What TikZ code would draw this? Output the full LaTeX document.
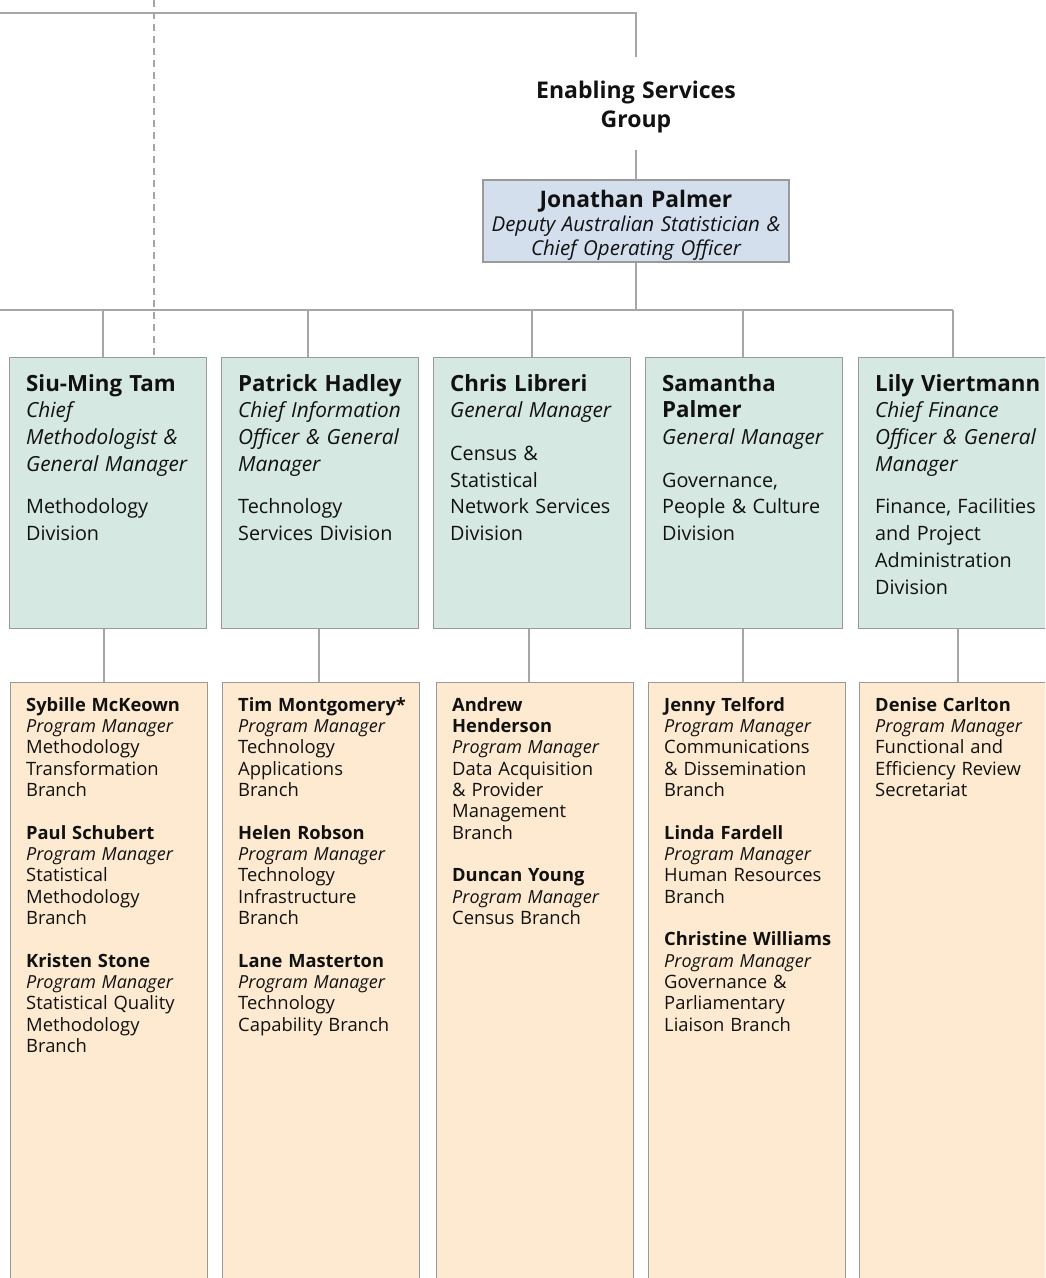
\documentclass[tikz,border=0pt]{standalone}
\usepackage{fontspec}
\setmainfont{Open Sans}
\usetikzlibrary{calc}
\definecolor{linegray}{HTML}{A6A6A6}
\definecolor{boxgray}{HTML}{9A9A9A}
\definecolor{divfill}{HTML}{D6E8E2}
\definecolor{jpfill}{HTML}{D4DFEE}
\definecolor{brfill}{HTML}{FDEAD0}
\definecolor{ink}{HTML}{111111}
\setlength{\parindent}{0pt}
\setlength{\parskip}{0pt}
\newcommand\mysp{\spaceskip=0.32em\relax}
\newcommand\mydnm{\fontsize{22.3}{26.7}\selectfont\bfseries\upshape\mysp}
\newcommand\mydti{\fontsize{20.8}{26.7}\selectfont\mdseries\itshape\mysp}
\newcommand\myddv{\fontsize{19.8}{26.7}\selectfont\mdseries\upshape\mysp}
\newcommand\mybnm{\fontsize{18.3}{21.33}\selectfont\bfseries\upshape\mysp}
\newcommand\mybti{\fontsize{18}{21.33}\selectfont\mdseries\itshape\mysp}
\newcommand\mybdv{\fontsize{18.4}{21.33}\selectfont\mdseries\upshape\mysp}
\newcommand\mydiv[3]{{\mydnm\strut #1\par}{\mydti #2\par}\vspace{16pt}{\myddv #3\par}}
\newcommand\mybentry[3]{{\mybnm #1\par}{\mybti #2\par}{\mybdv #3\par}}
\newcommand\mygap{\vspace{21.33pt}}
\begin{document}
\begin{tikzpicture}[x=1pt,y=-1pt,
  conn/.style={draw=linegray, line width=1.4pt},
  dashconn/.style={conn, dash pattern=on 7pt off 5pt},
  divbox/.style={draw=boxgray, fill=divfill, line width=1.2pt, anchor=north west, inner sep=0pt, minimum width=197pt, minimum height=271pt},
  brbox/.style={draw=boxgray, fill=brfill, line width=1.2pt, anchor=north west, inner sep=0pt, minimum width=197pt, minimum height=620pt},
  jpbox/.style={draw=boxgray, fill=jpfill, line width=1.2pt, inner sep=0pt, minimum width=306pt, minimum height=82pt},
  txt/.style={anchor=north west, inner sep=0pt, text width=230pt, align=left, text=ink},
  ctxt/.style={anchor=north, inner sep=0pt, text width=330pt, align=center, text=ink}
]
\clip (0,0) rectangle (1045,1278);
\fill[white] (0,0) rectangle (1045,1278);

% group heading and top box
\node[ctxt] (esg) at (636,77.7) {{\fontsize{23}{29}\selectfont\bfseries\mysp\strut Enabling Services\\Group\par}};
\node[jpbox] (jp) at (636,221) {};
\node[ctxt] (jpt) at (636,189.85) {{\fontsize{22.8}{24.5}\selectfont\bfseries\mysp\strut Jonathan Palmer\par}{\fontsize{20.5}{24}\selectfont\itshape\mysp Deputy Australian Statistician \&\\Chief Operating Officer\par}};

% division boxes
\node[divbox] (sm) at (9,357) {};
\node[divbox] (ph) at (221,357) {};
\node[divbox] (cl) at (433,357) {};
\node[divbox] (sp) at (645,357) {};
\node[divbox, minimum width=205pt] (lv) at (858,357) {};

% branch boxes
\node[brbox] (b1) at (10,682) {};
\node[brbox] (b2) at (222,682) {};
\node[brbox] (b3) at (436,682) {};
\node[brbox] (b4) at (648,682) {};
\node[brbox, minimum width=205pt] (b5) at (859,682) {};

% coordinates for connectors
\coordinate (topL) at (0,13);
\coordinate (esgTop) at (636,57);
\coordinate (esgBot) at (636,150);
\coordinate (bus) at (0,310);
\coordinate (dtop) at (154,0);
\coordinate (t1) at (103,0);
\coordinate (t2) at (308,0);
\coordinate (t3) at (532,0);
\coordinate (t4) at (743,0);
\coordinate (t5) at (953,0);
\coordinate (d1) at (104,0);
\coordinate (d2) at (319,0);
\coordinate (d3) at (529,0);
\coordinate (d4) at (743,0);
\coordinate (d5) at (958,0);

% connectors
\draw[conn] (topL) -| (esgTop);
\draw[conn] (esgBot) -- (jp.north);
\draw[conn] (jp.south) -- (jp.south |- bus);
\draw[conn] (bus) -- (bus -| t5);
\draw[conn] (bus -| t1) -- (sm.north -| t1);
\draw[conn] (bus -| t2) -- (ph.north -| t2);
\draw[conn] (bus -| t3) -- (cl.north -| t3);
\draw[conn] (bus -| t4) -- (sp.north -| t4);
\draw[conn] (bus -| t5) -- (lv.north -| t5);
\draw[dashconn] (dtop) -- (sm.north -| dtop);
\draw[conn] (sm.south -| d1) -- (b1.north -| d1);
\draw[conn] (ph.south -| d2) -- (b2.north -| d2);
\draw[conn] (cl.south -| d3) -- (b3.north -| d3);
\draw[conn] (sp.south -| d4) -- (b4.north -| d4);
\draw[conn] (lv.south -| d5) -- (b5.north -| d5);

% division texts
\node[txt] (smt) at (26,372.3) {\mydiv{Siu-Ming Tam}{Chief\\Methodologist \&\\General Manager}{Methodology\\Division}};
\node[txt] (pht) at (238,372.3) {\mydiv{Patrick Hadley}{Chief Information\\Officer \& General\\Manager}{Technology\\Services Division}};
\node[txt] (clt) at (450,372.3) {\mydiv{Chris Libreri}{General Manager}{Census \&\\Statistical\\Network Services\\Division}};
\node[txt] (spt) at (662,372.3) {\mydiv{Samantha\\Palmer}{General Manager}{Governance,\\People \& Culture\\Division}};
\node[txt] (lvt) at (875,372.3) {\mydiv{Lily Viertmann}{Chief Finance\\Officer \& General\\Manager}{Finance, Facilities\\and Project\\Administration\\Division}};

% branch texts
\node[txt] (b1t) at (26,696.07) {\mybentry{\strut Sybille McKeown}{Program Manager}{Methodology\\Transformation\\Branch}\mygap
\mybentry{Paul Schubert}{Program Manager}{Statistical\\Methodology\\Branch}\mygap
\mybentry{Kristen Stone}{Program Manager}{Statistical Quality\\Methodology\\Branch}};
\node[txt] (b2t) at (238,696.07) {\mybentry{\strut Tim Montgomery*}{Program Manager}{Technology\\Applications\\Branch}\mygap
\mybentry{Helen Robson}{Program Manager}{Technology\\Infrastructure\\Branch}\mygap
\mybentry{Lane Masterton}{Program Manager}{Technology\\Capability Branch}};
\node[txt] (b3t) at (452,696.07) {\mybentry{\strut Andrew\\Henderson}{Program Manager}{Data Acquisition\\\& Provider\\Management\\Branch}\mygap
\mybentry{Duncan Young}{Program Manager}{Census Branch}};
\node[txt] (b4t) at (664,696.07) {\mybentry{\strut Jenny Telford}{Program Manager}{Communications\\\& Dissemination\\Branch}\mygap
\mybentry{Linda Fardell}{Program Manager}{Human Resources\\Branch}\mygap
\mybentry{Christine Williams}{Program Manager}{Governance \&\\Parliamentary\\Liaison Branch}};
\node[txt] (b5t) at (875,696.07) {\mybentry{\strut Denise Carlton}{Program Manager}{Functional and\\Efficiency Review\\Secretariat}};
\end{tikzpicture}
\end{document}
